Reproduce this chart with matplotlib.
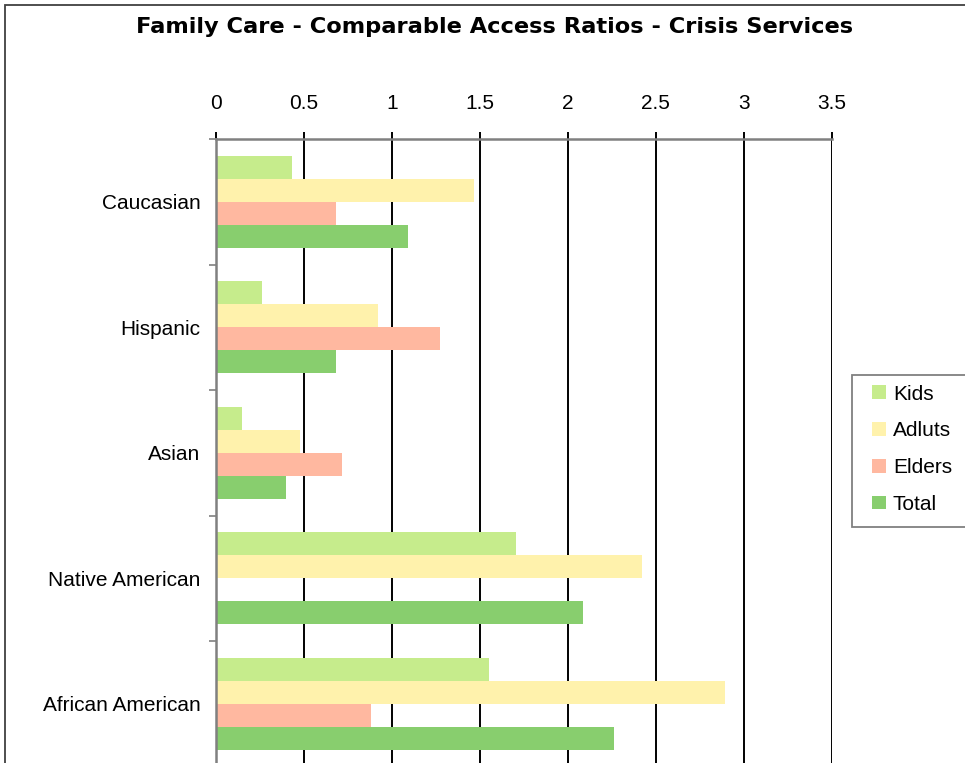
import matplotlib
matplotlib.use("Agg")
import matplotlib.pyplot as plt
import numpy as np
from matplotlib.patches import Rectangle, Patch
from matplotlib.legend_handler import HandlerPatch

plt.rcParams['font.family'] = ['Liberation Sans', 'DejaVu Sans']

categories = ["Caucasian", "Hispanic", "Asian", "Native American", "African American"]
series_names = ["Kids", "Adluts", "Elders", "Total"]
kids = [0.435, 0.265, 0.15, 1.705, 1.55]
adults = [1.468, 0.92, 0.48, 2.42, 2.89]
elders = [0.683, 1.275, 0.72, 0.0, 0.88]
total = [1.093, 0.685, 0.40, 2.085, 2.265]
x_ticks = [0, 0.5, 1, 1.5, 2, 2.5, 3, 3.5]
x_tick_labels = ["0", "0.5", "1", "1.5", "2", "2.5", "3", "3.5"]
title = "Family Care - Comparable Access Ratios - Crisis Services"

colors = ["#C6EC8C", "#FFF2AC", "#FFB8A0", "#88CE6E"]
series = [kids, adults, elders, total]

W, H = 965, 763
fig = plt.figure(figsize=(W / 100, H / 100), dpi=100)

# figure border
fig.patches.append(Rectangle((5 / W, -0.01), 1.1, 1 - 5 / H + 0.01, transform=fig.transFigure,
                             fill=False, edgecolor="#404040", linewidth=1.3, zorder=-2))

left, right, top, bottom = 215.6, 832, 139, 766.5
ax = fig.add_axes([left / W, 1 - bottom / H, (right - left) / W, (bottom - top) / H])

n = len(categories)
y = np.arange(n)
h = 0.733 / 4
for i, (vals, c, name) in enumerate(zip(series, colors, series_names)):
    ax.barh(y + (i - 1.5) * h, vals, height=h, color=c, label=name, zorder=2, linewidth=0)

ax.set_xlim(0, 3.5)
ax.set_ylim(n - 0.5, -0.5)
ax.xaxis.tick_top()
ax.set_xticks(x_ticks)
ax.set_xticklabels(x_tick_labels, fontsize=15)
ax.tick_params(axis='x', length=5, width=1.4, color='black', pad=14)
ax.grid(axis='x', color='black', linewidth=1.4, zorder=1)

ax.set_yticks(y)
ax.set_yticklabels(categories, fontsize=15)
ax.set_yticks(np.arange(n + 1) - 0.5, minor=True)
ax.tick_params(axis='y', which='major', length=0, pad=11)
ax.tick_params(axis='y', which='minor', length=5, width=1.2, color='#808080')

for s in ['top', 'left']:
    ax.spines[s].set_color('#808080')
    ax.spines[s].set_linewidth(1.8)
ax.spines['right'].set_visible(False)
ax.spines['bottom'].set_visible(False)

fig.text(495 / W, 1 - 27 / H, title, ha='center', va='center', fontsize=16.2, fontweight='bold',
         family=['DejaVu Sans'])


def square(legend, orig_handle, xdescent, ydescent, width, height, fontsize):
    s = 0.67 * fontsize
    return Rectangle((-xdescent + width - s, -ydescent + (height - s) / 2), s, s)


# legend frame (extends past the right edge as in the reference)
fig.patches.append(Rectangle((852 / W, 1 - 527 / H), 0.2, (527 - 375) / H, transform=fig.transFigure,
                             fill=True, facecolor='white', edgecolor='#808080', linewidth=1.3, zorder=-1))
proxies = [Patch(facecolor=c, edgecolor='none') for c in colors]
leg = ax.legend(handles=proxies, labels=series_names, loc='upper left',
                bbox_to_anchor=(852 / W, 1 - 374 / H), bbox_transform=fig.transFigure,
                fontsize=15, frameon=False,
                handlelength=1.13, handleheight=0.8, handletextpad=0.33, labelspacing=0.84,
                borderpad=0.5, borderaxespad=0,
                handler_map={Patch: HandlerPatch(patch_func=square)})

fig.savefig("out.png", dpi=100)
